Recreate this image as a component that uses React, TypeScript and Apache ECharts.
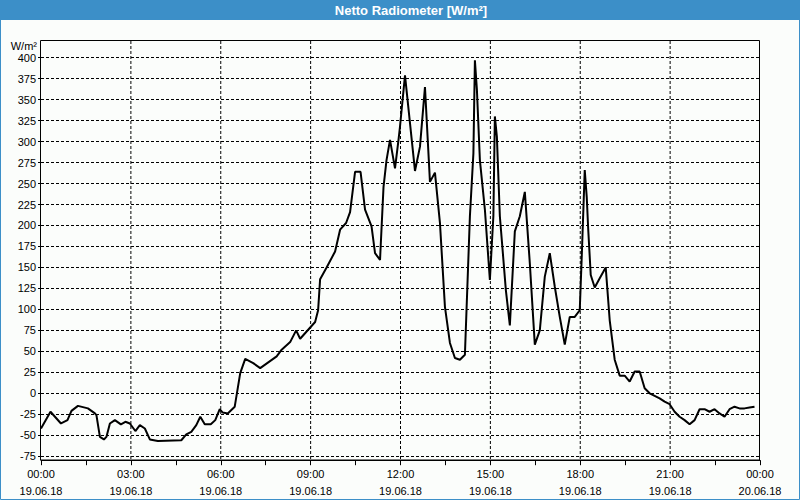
import React, { useEffect, useRef } from "react";
import * as echarts from "echarts";

const times = [
  "00:00","00:19","00:40","00:53","01:01","01:14","01:34","01:48","01:51","01:58",
  "02:06","02:11","02:18","02:28","02:40","02:49","02:58","03:09","03:18","03:28",
  "03:38","03:54","04:41","04:51","05:01","05:11","05:19","05:28","05:40","05:49",
  "05:58","06:04","06:14","06:28","06:39","06:49","07:05","07:19","07:52","08:02",
  "08:19","08:31","08:39","09:09","09:15","09:19","09:32","09:49","09:59","10:11",
  "10:19","10:29","10:40","10:49","11:02","11:09","11:19","11:26","11:32","11:39",
  "11:49","11:56","11:59","12:09","12:29","12:39","12:49","12:59","13:09","13:19",
  "13:29","13:39","13:49","13:59","14:09","14:19","14:26","14:29","14:33","14:39",
  "14:49","14:59","15:06","15:09","15:13","15:19","15:31","15:39","15:49","15:59",
  "16:09","16:19","16:29","16:39","16:49","16:59","17:09","17:19","17:29","17:39",
  "17:49","17:59","18:03","18:09","18:13","18:16","18:21","18:29","18:39","18:51",
  "18:59","19:09","19:19","19:29","19:39","19:49","19:59","20:09","20:19","20:29",
  "20:39","20:49","20:59","21:09","21:19","21:29","21:39","21:49","21:59","22:09",
  "22:19","22:29","22:39","22:49","22:59","23:09","23:19","23:29","23:39","23:49"
];

const values = [
  -42, -22, -36, -32, -21, -15, -18, -24, -26, -52,
  -55, -52, -36, -32, -37, -34, -36, -45, -38, -42,
  -55, -57, -56, -49, -46, -38, -28, -37, -37, -32,
  -19, -23, -24, -16, 24, 41, 36, 30, 44, 52,
  61, 75, 65, 85, 99, 136, 150, 169, 195, 203,
  216, 264, 264, 219, 199, 167, 159, 246, 278, 302,
  268, 302, 318, 379, 265, 294, 365, 252, 263, 203,
  103, 60, 42, 40, 46, 211, 286, 397, 362, 278,
  219, 135, 211, 330, 306, 211, 123, 81, 193, 211,
  240, 155, 58, 75, 139, 167, 127, 91, 58, 91,
  91, 99, 163, 266, 234, 195, 141, 126, 137, 150,
  87, 40, 21, 21, 14, 26, 26, 6, 0, -3,
  -6, -10, -13, -22, -28, -32, -37, -32, -19, -19,
  -22, -19, -24, -28, -19, -16, -18, -18, -17, -16
];

const yTickLabels = ["-75","-50","-25","0","25","50","75","100","125","150","175","200","225","250","275","300","325","350","375","400"];
const xTickHours = [0, 3, 6, 9, 12, 15, 18, 21, 24];
const xDayLabels = ["19.06.18", "20.06.18"];

const titleText = "Netto Radiometer [W/m\u00b2]";
const unitText = "W/m\u00b2";

const toHours = (t: string) => {
  const [h, m] = t.split(":").map(Number);
  return h + m / 60;
};

const BLUE = "#3c8fc8";
const FONT = '"Liberation Sans", Arial, sans-serif';

export default function App() {
  const ref = useRef<HTMLDivElement>(null);
  useEffect(() => {
    document.body.style.margin = "0";
    if (!ref.current) return;
    const chart = echarts.init(ref.current, undefined, { renderer: "svg" });
    const data = times.map((t, i) => [toHours(t), values[i]]);
    const yMin = Number(yTickLabels[0]);
    const yMax = Number(yTickLabels[yTickLabels.length - 1]);
    chart.setOption({
      animation: false,
      backgroundColor: "#fbfdfb",
      grid: { left: 41, right: 40, top: 57.7, bottom: 43.8 },
      xAxis: {
        type: "value",
        min: xTickHours[0],
        max: xTickHours[xTickHours.length - 1],
        interval: 3,
        offset: 4,
        axisLine: { show: true, onZero: false, lineStyle: { color: "#000", width: 1 } },
        axisTick: { show: true, length: 5, lineStyle: { color: "#000" } },
        minorTick: { show: true, splitNumber: 2, length: 5, lineStyle: { color: "#000" } },
        axisLabel: {
          color: "#000",
          fontFamily: FONT,
          fontSize: 11,
          lineHeight: 17,
          margin: 5,
          formatter: (v: number) => {
            const h = v % 24;
            const day = v < 24 ? xDayLabels[0] : xDayLabels[1];
            return (h < 10 ? "0" : "") + h + ":00\n" + day;
          },
        },
        splitLine: { show: false },
      },
      yAxis: {
        type: "value",
        min: yMin,
        max: yMax,
        interval: 25,
        axisLine: { show: false },
        axisTick: { show: true, length: 3, lineStyle: { color: "#000" } },
        axisLabel: { color: "#000", fontFamily: FONT, fontSize: 11, margin: 5 },
        splitLine: { show: true, lineStyle: { color: "#000", width: 1, type: [3, 2] } },
      },
      graphic: [
        { type: "rect", shape: { x: 0, y: 0, width: 800, height: 20 }, style: { fill: BLUE }, z: 0 },
        { type: "rect", shape: { x: 0.5, y: 0.5, width: 799, height: 499 }, style: { fill: "none", stroke: BLUE, lineWidth: 1 }, z: 0 },
        {
          type: "text",
          x: 411,
          y: 10,
          style: { text: titleText, fill: "#fff", font: "bold 13px " + FONT, textAlign: "center", textVerticalAlign: "middle" },
        },
        {
          type: "text",
          x: 37,
          y: 46,
          style: { text: unitText, fill: "#000", font: "11px " + FONT, textAlign: "right", textVerticalAlign: "middle" },
        },
        ...xTickHours.slice(1, -1).map((h) => ({
          type: "line",
          shape: { x1: 41 + (h / 24) * 719, y1: 41, x2: 41 + (h / 24) * 719, y2: 460 },
          style: { stroke: "#000", lineWidth: 1, lineDash: [3, 2] },
          silent: true,
          z: 1,
        })),
        {
          type: "rect",
          shape: { x: 40.5, y: 40.5, width: 719, height: 419.5 },
          style: { fill: "none", stroke: "#000", lineWidth: 1 },
          z: 10,
        },
      ],
      series: [
        {
          type: "line",
          data,
          showSymbol: false,
          symbol: "none",
          lineStyle: { color: "#000", width: 2 },
          z: 5,
        },
      ],
    });
    return () => chart.dispose();
  }, []);
  return <div ref={ref} style={{ width: 800, height: 500, position: "absolute", left: 0, top: 0 }} />;
}
